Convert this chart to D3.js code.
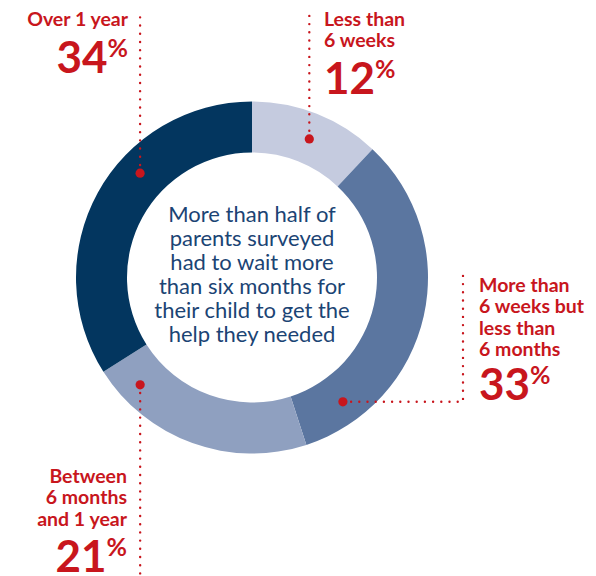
<!DOCTYPE html>
<html>
<head>
<meta charset="utf-8">
<script src="https://cdn.jsdelivr.net/npm/d3@7"></script>
<style>
  body { margin: 0; background: #ffffff; }
  svg text { font-family: Lato, "Noto Sans", sans-serif; }
</style>
</head>
<body>
<div id="chart"></div>
<script>
// wait time categories, clockwise from 12 o'clock
const categories = ["Less than 6 weeks", "More than 6 weeks but less than 6 months", "Between 6 months and 1 year", "Over 1 year"];
const values = [12, 33, 21, 34];
const colours = ["#c5cbdf", "#5b76a0", "#8fa0c0", "#03365f"];
const labelLines = [
    ["Less than", "6 weeks"],
    ["More than", "6 weeks but", "less than", "6 months"],
    ["Between", "6 months", "and 1 year"],
    ["Over 1 year"]
];
const centreLines = ["More than half of", "parents surveyed", "had to wait more", "than six months for", "their child to get the", "help they needed"];

const W = 596, H = 576;
const cx = 252, cy = 277.5;
const outerR = 176, innerR = 125;
const red = "#c8161d";

const svg = d3.select("#chart")
    .append("svg")
    .attr("width", W)
    .attr("height", H);

const pie = d3.pie().sort(null).value(d => d);
const arcs = pie(values);

const arc = d3.arc().innerRadius(innerR).outerRadius(outerR);

const g = svg.append("g").attr("transform", `translate(${cx},${cy})`);

g.selectAll("path.slice")
    .data(arcs)
    .enter().append("path")
    .attr("class", "slice")
    .attr("d", arc)
    .attr("fill", (d, i) => colours[i]);

// where each leader dot sits: t = fraction through the slice, r = radius
const dotPos = [
    { t: 0.52, r: 150 },
    { t: 0.847, r: 154 },
    { t: 0.849, r: 155 },
    { t: 0.616, r: 153 }
];

function pointOf(d, p) {
    const a = d.startAngle + (d.endAngle - d.startAngle) * p.t;
    return [cx + p.r * Math.sin(a), cy - p.r * Math.cos(a)];
}

const dots = arcs.map((d, i) => pointOf(d, dotPos[i]));

// leader lines (dotted)
const leaders = [
    [dots[0], [dots[0][0], 12]],
    [dots[1], [463, dots[1][1]], [463, 275]],
    [dots[2], [dots[2][0], H]],
    [dots[3], [dots[3][0], 13]]
];

const line = d3.line();

svg.selectAll("path.leader")
    .data(leaders)
    .enter().append("path")
    .attr("class", "leader")
    .attr("d", d => line(d))
    .attr("fill", "none")
    .attr("stroke", red)
    .attr("stroke-width", 2.4)
    .attr("stroke-linecap", "round")
    .attr("stroke-dasharray", "0,8.2");

svg.selectAll("circle.dot")
    .data(dots)
    .enter().append("circle")
    .attr("class", "dot")
    .attr("cx", d => d[0])
    .attr("cy", d => d[1])
    .attr("r", 4.6)
    .attr("fill", red);

// label blocks: x anchor, first baseline, anchor, baseline of big number
const labelLayout = [
    { x: 324, y: 26, anchor: "start", numY: 94 },
    { x: 479, y: 292, anchor: "start", numY: 400 },
    { x: 127, y: 483, anchor: "end", numY: 572 },
    { x: 128, y: 26, anchor: "end", numY: 73 }
];

labelLayout.forEach((L, i) => {
    const block = svg.append("g").attr("class", "label");

    block.selectAll("text.cat")
        .data(labelLines[i])
        .enter().append("text")
        .attr("class", "cat")
        .attr("x", L.x)
        .attr("y", (d, j) => L.y + j * 21.3)
        .attr("text-anchor", L.anchor)
        .attr("fill", red)
        .attr("font-weight", 700)
        .attr("font-size", "19.5px")
        .text(d => d);

    const num = block.append("text")
        .attr("x", L.x)
        .attr("y", L.numY)
        .attr("text-anchor", L.anchor)
        .attr("fill", red)
        .attr("font-weight", 700);

    num.append("tspan")
        .attr("font-size", "44px")
        .text(values[i]);

    num.append("tspan")
        .attr("font-size", "25px")
        .attr("dy", "-16")
        .text("%");
});

// centre message
svg.append("g")
    .selectAll("text")
    .data(centreLines)
    .enter().append("text")
    .attr("x", cx)
    .attr("y", (d, i) => 222 + i * 24)
    .attr("text-anchor", "middle")
    .attr("fill", "#1b4474")
    .attr("font-size", "22px")
    .text(d => d);
</script>
</body>
</html>
